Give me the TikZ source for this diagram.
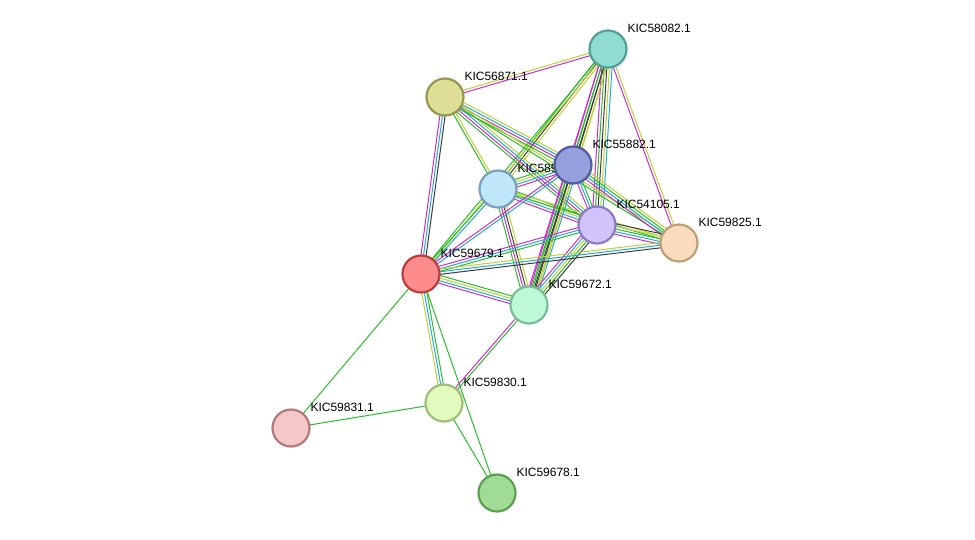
\documentclass[tikz,border=0pt]{standalone}
\usepackage{fontspec}
\setmainfont{Liberation Sans}
\usetikzlibrary{calc}
\definecolor{eg}{RGB}{40,190,40}
\definecolor{em}{RGB}{210,40,210}
\definecolor{ec}{RGB}{30,170,220}
\definecolor{ey}{RGB}{190,210,50}
\definecolor{ek}{RGB}{60,60,60}
\newcommand{\edge}[3]{%
  \foreach \c [count=\i] in {#3} {\xdef\n{\i}}%
  \foreach \c [count=\i] in {#3} {
    \pgfmathsetmacro{\o}{(\i-(\n+1)/2)*2.6}
    \draw[\c] ($(#1.center)!\o pt!90:(#2.center)$) -- ($(#2.center)!\o pt!-90:(#1.center)$);
  }}
\begin{document}
\begin{tikzpicture}[x=1pt,y=-1pt,line width=1pt,
  prot/.style={circle,minimum size=37pt,inner sep=0pt,line width=2.2pt},
  lab/.style={anchor=base west,font=\fontsize{12}{14}\selectfont,inner sep=1pt}]
  \useasboundingbox (0,0) rectangle (975,539);
  % coordinates of proteins
  \coordinate (A) at (608,49);  \coordinate (B) at (445,97);
  \coordinate (C) at (498,189); \coordinate (D) at (573,165);
  \coordinate (E) at (597,225); \coordinate (F) at (679,243);
  \coordinate (G) at (421,274); \coordinate (H) at (529,305);
  \coordinate (I) at (444,403); \coordinate (J) at (291,428);
  \coordinate (K) at (497,493);
  % evidence lines
  \edge{A}{B}{ey,em}
  \edge{A}{C}{eg,ek,ey}
  \edge{A}{D}{em,eg,ek,ey}
  \edge{A}{E}{em,eg,ek,ey,ec}
  \edge{A}{F}{em,ey}
  \edge{A}{G}{eg,ey}
  \edge{A}{H}{em,eg,ek,ey}
  \edge{B}{G}{em,ec,ek}
  \edge{B}{C}{eg,ey}
  \edge{B}{D}{eg,em,ec,ey}
  \edge{B}{E}{eg,em,ec,ey}
  \edge{B}{F}{eg,ey}
  \edge{C}{D}{em,ec,ey,eg}
  \edge{C}{E}{em,ec,ey,eg}
  \edge{C}{F}{eg,ey}
  \edge{C}{H}{eg,em,ek,ey}
  \edge{C}{G}{eg,ec}
  \edge{D}{E}{em,ec,eg}
  \edge{D}{F}{em,ec,eg,ey}
  \edge{D}{G}{em,ec}
  \edge{D}{H}{em,eg,ek,ey,ec}
  \edge{E}{F}{em,ec,eg,ey,ek}
  \edge{E}{G}{em,ec,eg}
  \edge{E}{H}{em,ec,ey,eg,ek}
  \edge{F}{G}{ey,ec,ek}
  \edge{G}{H}{em,ec,ey,eg}
  \edge{G}{I}{ey,ec,eg}
  \edge{G}{J}{eg}
  \edge{G}{K}{eg}
  \edge{H}{I}{em,eg}
  \edge{I}{J}{eg}
  \edge{I}{K}{eg}
  % proteins
  \node[lab] at ($(C)+(18,-17)$) {KIC589};
  \foreach \p/\f/\d/\t in {
      A/{142,220,210}/{80,160,150}/KIC58082.1,
      B/{222,222,150}/{150,150,80}/KIC56871.1,
      C/{192,230,250}/{120,160,190}/,
      D/{150,160,220}/{80,90,160}/KIC55882.1,
      E/{210,195,250}/{140,120,200}/KIC54105.1,
      F/{252,220,190}/{190,160,120}/KIC59825.1,
      G/{255,140,140}/{190,60,60}/KIC59679.1,
      H/{190,250,215}/{120,190,150}/KIC59672.1,
      I/{225,250,190}/{160,190,120}/KIC59830.1,
      J/{245,200,200}/{180,120,120}/KIC59831.1,
      K/{160,220,150}/{90,160,80}/KIC59678.1} {
    \definecolor{nf}{RGB}{\f}\definecolor{nd}{RGB}{\d}
    \node[prot,fill=nf,draw=nd] (n\p) at (\p) {};
    \node[lab] (l\p) at ($(\p)+(18,-17)$) {\t};
  }
\end{tikzpicture}
\end{document}
